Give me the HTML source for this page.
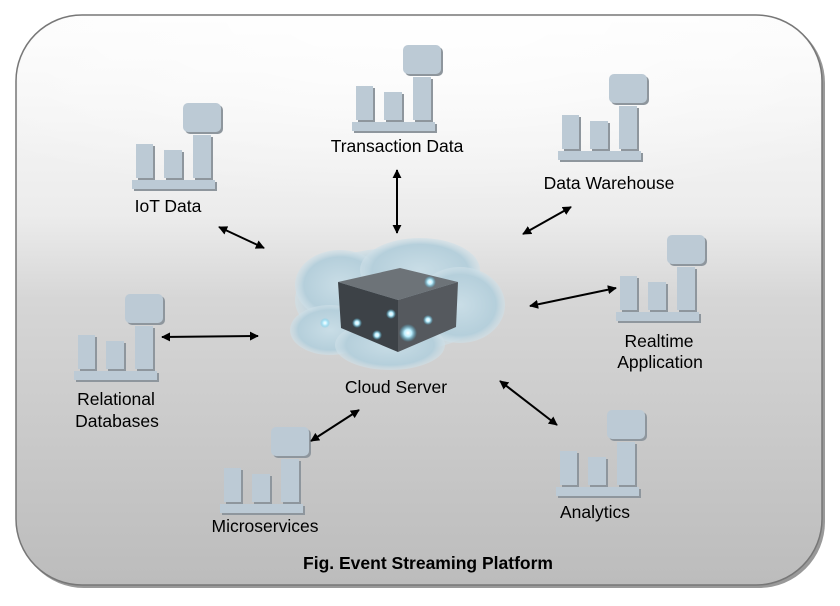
<!DOCTYPE html>
<html><head><meta charset="utf-8"><style>
html,body{margin:0;padding:0;background:#fff;}
svg{display:block;font-family:"Liberation Sans",Arial,sans-serif;}
</style></head><body>
<svg width="840" height="606" viewBox="0 0 840 606" xmlns="http://www.w3.org/2000/svg">
<defs>
<linearGradient id="bg" x1="0" y1="0" x2="0" y2="1">
<stop offset="0" stop-color="#fcfcfc"/>
<stop offset="0.35" stop-color="#ececec"/>
<stop offset="0.5" stop-color="#d6d6d6"/>
<stop offset="1" stop-color="#bcbcbc"/>
</linearGradient>
<radialGradient id="gloss" cx="0.5" cy="0" r="0.75">
<stop offset="0" stop-color="#fff" stop-opacity="0.9"/>
<stop offset="0.7" stop-color="#fff" stop-opacity="0.3"/>
<stop offset="1" stop-color="#fff" stop-opacity="0"/>
</radialGradient>
<radialGradient id="cl" cx="0.5" cy="0.5" r="0.5">
<stop offset="0" stop-color="#c9dde6"/>
<stop offset="0.8" stop-color="#b5cfdb"/>
<stop offset="1" stop-color="#cfe0e8" stop-opacity="0.6"/>
</radialGradient>
<radialGradient id="dot"><stop offset="0" stop-color="#fff"/><stop offset="0.4" stop-color="#bff0ff"/><stop offset="1" stop-color="#4fc3e8" stop-opacity="0"/></radialGradient>
<marker id="ah" viewBox="0 0 10 10" refX="9" refY="5" markerWidth="9" markerHeight="9" orient="auto-start-reverse" markerUnits="userSpaceOnUse"><path d="M0,0 L10,5 L0,10 z" fill="#000"/></marker>
<g id="ic">
<rect x="2" y="2" width="83" height="9" fill="#8e969d"/>
<rect x="6" y="-34" width="17" height="36" fill="#8e969d"/>
<rect x="34" y="-28" width="18" height="30" fill="#8e969d"/>
<rect x="63" y="-43" width="18" height="45" fill="#8e969d"/>
<rect x="53" y="-75" width="38" height="29" rx="5" fill="#8e969d"/>
<rect x="0" y="0" width="83" height="9" fill="#bccad5"/>
<rect x="4" y="-36" width="17" height="34" fill="#bccad5"/>
<rect x="32" y="-30" width="18" height="28" fill="#bccad5"/>
<rect x="61" y="-45" width="18" height="43" fill="#bccad5"/>
<rect x="51" y="-77" width="38" height="29" rx="5" fill="#bccad5"/>
</g>
</defs>
<rect x="18" y="17" width="807" height="571" rx="66" fill="#999"/>
<rect x="16" y="15" width="806" height="570" rx="66" fill="url(#bg)" stroke="#777" stroke-width="1.5"/>
<rect x="18" y="17" width="802" height="250" rx="64" fill="url(#gloss)"/>

<use href="#ic" x="132" y="180"/>
<use href="#ic" x="352" y="122"/>
<use href="#ic" x="558" y="151"/>
<use href="#ic" x="616" y="312"/>
<use href="#ic" x="74" y="371"/>
<use href="#ic" x="220" y="504"/>
<use href="#ic" x="556" y="487"/>

<g font-size="17.5" fill="#000" text-anchor="middle">
<text x="168" y="212">IoT Data</text>
<text x="397" y="152">Transaction Data</text>
<text x="609" y="189">Data Warehouse</text>
<text x="659" y="347">Realtime</text>
<text x="660" y="368">Application</text>
<text x="116" y="405">Relational</text>
<text x="117" y="427">Databases</text>
<text x="265" y="532">Microservices</text>
<text x="595" y="518">Analytics</text>
<text x="396" y="393">Cloud Server</text>
<text x="428" y="569" font-weight="bold" font-size="17.5">Fig. Event Streaming Platform</text>
</g>

<g stroke="#000" stroke-width="2" marker-start="url(#ah)" marker-end="url(#ah)">
<line x1="219" y1="227" x2="264" y2="248"/>
<line x1="397" y1="170" x2="397" y2="233"/>
<line x1="523" y1="234" x2="571" y2="207"/>
<line x1="530" y1="306" x2="616" y2="288"/>
<line x1="162" y1="337" x2="258" y2="336"/>
<line x1="311" y1="441" x2="359" y2="410"/>
<line x1="500" y1="381" x2="557" y2="425"/>
</g>

<g fill="url(#cl)">
<ellipse cx="395" cy="300" rx="100" ry="52"/>
<ellipse cx="340" cy="285" rx="45" ry="35"/>
<ellipse cx="420" cy="270" rx="60" ry="32"/>
<ellipse cx="460" cy="305" rx="45" ry="38"/>
<ellipse cx="330" cy="330" rx="40" ry="25"/>
<ellipse cx="390" cy="345" rx="55" ry="25"/>
</g>
<g>
<polygon points="338,282 400,268 458,282 398,300" fill="#6d7378"/>
<polygon points="338,282 398,300 398,352 341,328" fill="#3d4247"/>
<polygon points="398,300 458,282 456,327 398,352" fill="#55595e"/>
<circle cx="408" cy="333" r="9" fill="url(#dot)"/>
<circle cx="430" cy="282" r="6" fill="url(#dot)"/>
<circle cx="357" cy="323" r="5" fill="url(#dot)"/>
<circle cx="377" cy="335" r="5" fill="url(#dot)"/>
<circle cx="325" cy="323" r="5" fill="url(#dot)"/>
<circle cx="391" cy="314" r="5" fill="url(#dot)"/>
<circle cx="428" cy="320" r="5" fill="url(#dot)"/>
</g>
</svg>
</body></html>
